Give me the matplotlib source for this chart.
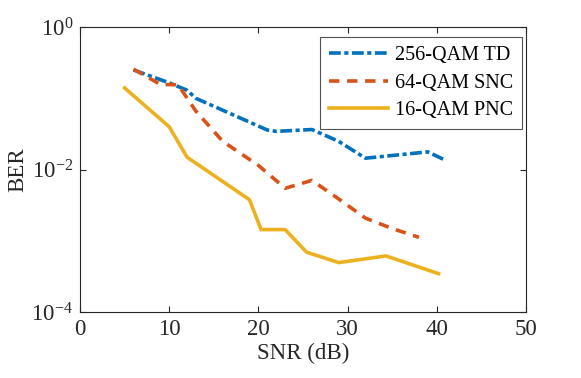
import matplotlib
matplotlib.use("Agg")
import matplotlib.pyplot as plt
from matplotlib.ticker import NullLocator

plt.rcParams['font.family'] = ['Liberation Serif', 'DejaVu Serif']
plt.rcParams['mathtext.fontset'] = 'custom'
plt.rcParams['mathtext.rm'] = 'Liberation Serif'
plt.rcParams['lines.scale_dashes'] = False

snr_td = [6, 10, 12, 13, 17, 21, 22, 26, 29, 32, 39, 41]
ber_td = [0.25, 0.165, 0.13, 0.10, 0.06, 0.036, 0.0345, 0.0366, 0.025, 0.0145, 0.0178, 0.0135]

snr_snc = [6, 9, 11, 13, 16, 20, 23, 26, 29, 32, 35, 38]
ber_snc = [0.257, 0.157, 0.155, 0.066, 0.025, 0.0115, 0.0055, 0.0071, 0.0039, 0.0021, 0.0015, 0.00113]

snr_pnc = [5, 10, 12, 19, 20.3, 23, 25.4, 29, 34.3, 40.2]
ber_pnc = [0.14, 0.04, 0.015, 0.0038, 0.00145, 0.00145, 0.0007, 0.0005, 0.00062, 0.00035]

labels = ['256-QAM TD', '64-QAM SNC', '16-QAM PNC']
colors = ['#0072BD', '#D95319', '#EDB120']

fig = plt.figure(figsize=(5.81, 3.78), dpi=100)
ax = fig.add_axes([0.1377, 0.1733, 0.7676, 0.7553])

l1, = ax.plot(snr_td, ber_td, color=colors[0], lw=2.6, label=labels[0])
l1.set_dashes([8.5, 2.5, 3, 2.5])
l2, = ax.plot(snr_snc, ber_snc, color=colors[1], lw=2.6, label=labels[1])
l2.set_dashes([7.5, 5.5])
ax.plot(snr_pnc, ber_pnc, linestyle='-', color=colors[2], lw=2.6, label=labels[2])

ax.set_yscale('log')
ax.set_xlim(0, 50)
ax.set_ylim(1e-4, 1)
ax.set_xticks([0, 10, 20, 30, 40, 50])
ax.set_yticks([1e-4, 1e-2, 1])
ax.yaxis.set_minor_locator(NullLocator())

ax.tick_params(direction='in', top=True, right=True, length=4, width=0.8,
               labelsize=16.5, colors='#262626', pad=5)
for s in ax.spines.values():
    s.set_color('#262626')
    s.set_linewidth(0.8)

ax.set_xlabel('SNR (dB)', fontsize=16.5, color='#262626', labelpad=2)
ax.set_ylabel('BER', fontsize=16.5, color='#262626', labelpad=2)

leg = ax.legend(loc='upper right', bbox_to_anchor=(522 / 581, 1 - 37 / 378),
                bbox_transform=fig.transFigure,
                fontsize=14.5, frameon=True, fancybox=False,
                edgecolor='#262626', handlelength=2.9, borderaxespad=0.0,
                labelspacing=0.42, handletextpad=0.35, borderpad=0.45)
leg.get_frame().set_linewidth(0.8)

fig.savefig('out.png', dpi=100)
